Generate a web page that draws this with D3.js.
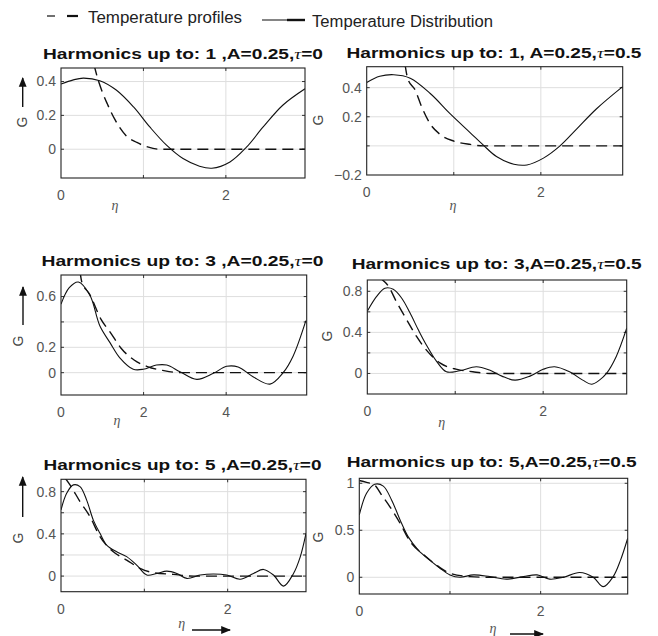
<!DOCTYPE html>
<html><head><meta charset="utf-8">
<script src="https://cdn.jsdelivr.net/npm/d3@7"></script>
<style>body{margin:0;background:#fff}svg{display:block}</style>
</head><body>
<svg id="c" width="658" height="636"></svg>
<script>
// ---------- data ----------
const legendLabels = ["Temperature profiles", "Temperature Distribution"];
const titleParts = [
  ["Harmonics up to: 1 ,A=0.25,", "=0"],
  ["Harmonics up to: 1, A=0.25,", "=0.5"],
  ["Harmonics up to: 3 ,A=0.25,", "=0"],
  ["Harmonics up to: 3,A=0.25,", "=0.5"],
  ["Harmonics up to: 5 ,A=0.25,", "=0"],
  ["Harmonics up to: 5,A=0.25,", "=0.5"]
];
const xTickLabels = [[0,2],[0,2],[0,2,4],[0,2],[0,2],[0,2]];
const xGridVals   = [[1,2],[1,2],[2,4],[1,2],[1,2],[1,2]];
const yTickLabels = [[0,0.2,0.4],[-0.2,0.2,0.4],[0,0.2,0.6],[0,0.4,0.8],[0,0.4,0.8],[0,0.5,1]];
const yGridVals   = [[0,0.2,0.4],[0,0.2,0.4],[0,0.2,0.4,0.6],[0,0.2,0.4,0.6,0.8],[0,0.2,0.4,0.6,0.8],[0,0.5,1]];
const xMax = [2.96, 2.94, 5.95, 2.95, 2.94, 2.96];
const yRange = [[-0.17,0.48],[-0.2,0.544],[-0.176,0.77],[-0.2,0.91],[-0.148,0.917],[-0.178,1.053]];

// Temperature distribution (solid) [eta, G]
const dist1 = [[0,0.385],[0.15,0.41],[0.27,0.42],[0.47,0.405],[0.67,0.35],[0.88,0.25],[1.08,0.13],[1.28,0.024],[1.48,-0.055],[1.68,-0.10],[1.83,-0.112],[2.05,-0.075],[2.25,0.012],[2.45,0.13],[2.69,0.26],[2.96,0.357]];
const dist2 = [[0,0.436],[0.15,0.478],[0.31,0.489],[0.5,0.465],[0.73,0.36],[0.96,0.22],[1.19,0.09],[1.34,0.005],[1.49,-0.073],[1.69,-0.126],[1.84,-0.131],[2.03,-0.084],[2.22,0],[2.41,0.115],[2.64,0.255],[2.94,0.407]];
const dist3 = [[0,0.54],[0.2,0.67],[0.42,0.715],[0.7,0.61],[0.94,0.37],[1.19,0.235],[1.43,0.115],[1.75,0.027],[1.99,0.027],[2.31,0.06],[2.56,0.06],[2.88,0.008],[3.29,-0.053],[3.69,-0.005],[4.01,0.05],[4.29,0.045],[4.65,-0.032],[5.06,-0.09],[5.38,0],[5.62,0.13],[5.93,0.41]];
const dist4 = [[0,0.605],[0.106,0.75],[0.2,0.83],[0.295,0.82],[0.39,0.735],[0.485,0.59],[0.58,0.425],[0.67,0.28],[0.79,0.115],[0.9,0.016],[1.05,0.026],[1.24,0.065],[1.39,0.033],[1.53,-0.026],[1.68,-0.065],[1.85,-0.026],[2.0,0.04],[2.13,0.065],[2.3,0.016],[2.45,-0.065],[2.55,-0.105],[2.64,-0.065],[2.72,0],[2.83,0.163],[2.95,0.44]];
const dist5 = [[0,0.627],[0.068,0.785],[0.148,0.864],[0.228,0.848],[0.308,0.72],[0.388,0.53],[0.468,0.405],[0.548,0.294],[0.668,0.23],[0.788,0.184],[0.908,0.104],[1.03,0.01],[1.15,0.025],[1.27,0.047],[1.39,0.025],[1.51,-0.022],[1.67,0.01],[1.83,0.02],[1.99,0.01],[2.15,-0.03],[2.31,0.025],[2.43,0.063],[2.55,0.01],[2.67,-0.095],[2.79,0.025],[2.87,0.18],[2.94,0.405]];
const dist6 = [[0,0.663],[0.08,0.894],[0.17,0.99],[0.265,0.97],[0.357,0.82],[0.45,0.61],[0.54,0.43],[0.65,0.29],[0.78,0.18],[0.89,0.096],[1.0,0.025],[1.11,0],[1.26,0.025],[1.44,0.007],[1.62,-0.02],[1.81,0.007],[1.96,0.025],[2.1,-0.02],[2.25,0],[2.43,0.05],[2.58,0],[2.69,-0.1],[2.8,0.007],[2.88,0.18],[2.96,0.415]];

// Temperature profiles (dashed) [eta, G]
const prof1 = [[0.40,0.5],[0.45,0.41],[0.5,0.34],[0.56,0.27],[0.66,0.17],[0.79,0.08],[0.92,0.04],[1.05,0.014],[1.2,0],[2.96,0]];
const prof2 = [[0.44,0.56],[0.47,0.465],[0.56,0.38],[0.63,0.27],[0.73,0.15],[0.84,0.08],[1.0,0.033],[1.19,0.01],[1.34,0],[2.94,0]];
const prof3 = [[0.46,0.8],[0.5,0.72],[0.69,0.62],[0.97,0.42],[1.21,0.31],[1.45,0.195],[1.77,0.10],[2.09,0.048],[2.49,0.016],[2.9,0],[5.95,0]];
const prof4 = [[0.144,0.93],[0.24,0.85],[0.33,0.70],[0.45,0.52],[0.56,0.36],[0.67,0.23],[0.83,0.10],[1.02,0.04],[1.2,0.016],[1.39,0],[2.95,0]];
const prof5 = [[0.048,0.93],[0.108,0.864],[0.228,0.706],[0.348,0.563],[0.468,0.373],[0.628,0.23],[0.788,0.152],[0.948,0.073],[1.11,0.032],[1.35,0.016],[1.59,0],[2.94,0]];
const prof6 = [[0,1.03],[0.08,1.01],[0.17,0.98],[0.246,0.876],[0.338,0.75],[0.45,0.574],[0.56,0.38],[0.71,0.24],[0.85,0.13],[1.0,0.043],[1.22,0.007],[1.4,0],[2.96,0]];

const distData = [dist1, dist2, dist3, dist4, dist5, dist6];
const profData = [prof1, prof2, prof3, prof4, prof5, prof6];

// ---------- layout ----------
const boxes = [[61,68,305,178],[366.7,66.7,622.7,175],[61,275,306.7,395],[367.3,280,626.7,394],[61,479.3,306,591.7],[359.3,478.3,627.7,594]];
const titlePos = [[183,59.3,280],[494,58.3,295],[182.5,265.7,282],[496.7,269.3,290],[182.5,470,278],[491.7,466.7,290]];
const gPos = [[22,122],[318,120],[18.5,341],[327,336],[18,538],[318,537]];
const upArrows = [[22.7,107,78],null,[23,325,287],null,[22.7,517,477],null];
const etaPos = [[115,205],[453,205],[117,420],[441.7,421.7],[181.7,623],[493,628]];
const rightArrows = [null,null,null,null,[192,230,630],[510,543,634]];

const svg = d3.select("#c");
const defs = svg.append("defs");
defs.append("marker").attr("id","ah").attr("viewBox","0 0 10 10").attr("refX",9).attr("refY",5)
  .attr("markerWidth",7).attr("markerHeight",7).attr("orient","auto-start-reverse")
  .append("path").attr("d","M0,1 L10,5 L0,9 Z").attr("fill","#111");

const sans = "'Liberation Sans', Arial, sans-serif";
const serif = "'Liberation Serif', 'DejaVu Serif', serif";

// legend
const lg = svg.append("g");
lg.append("line").attr("x1",47).attr("x2",55).attr("y1",16).attr("y2",16).attr("stroke","#222").attr("stroke-width",1.3);
lg.append("line").attr("x1",67).attr("x2",78).attr("y1",16).attr("y2",16).attr("stroke","#111").attr("stroke-width",2.2);
lg.append("text").attr("x",88).attr("y",22.5).attr("font-family",sans).attr("font-size",16).attr("fill","#222")
  .attr("textLength",154).attr("lengthAdjust","spacingAndGlyphs").text(legendLabels[0]);
lg.append("line").attr("x1",262).attr("x2",292).attr("y1",20).attr("y2",20).attr("stroke","#222").attr("stroke-width",1.1);
lg.append("line").attr("x1",287).attr("x2",305).attr("y1",20).attr("y2",20).attr("stroke","#111").attr("stroke-width",2.4);
lg.append("text").attr("x",312).attr("y",27).attr("font-family",sans).attr("font-size",16).attr("fill","#222")
  .attr("textLength",181).attr("lengthAdjust","spacingAndGlyphs").text(legendLabels[1]);

boxes.forEach((b, i) => {
  const [l,t,r,bt] = b;
  const x = d3.scaleLinear().domain([0, xMax[i]]).range([l, r]);
  const y = d3.scaleLinear().domain(yRange[i]).range([bt, t]);
  const g = svg.append("g");
  const cid = "clip" + i;
  defs.append("clipPath").attr("id", cid).append("rect").attr("x", l).attr("y", t).attr("width", r-l).attr("height", bt-t);

  // grid
  g.selectAll(".gx").data(xGridVals[i]).enter().append("line")
    .attr("x1", d=>x(d)).attr("x2", d=>x(d)).attr("y1", t).attr("y2", bt)
    .attr("stroke","#dedede").attr("stroke-width",1);
  g.selectAll(".gy").data(yGridVals[i]).enter().append("line")
    .attr("y1", d=>y(d)).attr("y2", d=>y(d)).attr("x1", l).attr("x2", r)
    .attr("stroke","#dedede").attr("stroke-width",1);

  // inner ticks
  const tk = 3;
  yGridVals[i].forEach(v => {
    g.append("line").attr("x1",l).attr("x2",l+tk).attr("y1",y(v)).attr("y2",y(v)).attr("stroke","#333");
    g.append("line").attr("x1",r).attr("x2",r-tk).attr("y1",y(v)).attr("y2",y(v)).attr("stroke","#333");
  });
  xGridVals[i].forEach(v => {
    g.append("line").attr("y1",bt).attr("y2",bt-tk).attr("x1",x(v)).attr("x2",x(v)).attr("stroke","#333");
    g.append("line").attr("y1",t).attr("y2",t+tk).attr("x1",x(v)).attr("x2",x(v)).attr("stroke","#333");
  });

  // lines
  const solidLine = d3.line().x(d=>x(d[0])).y(d=>y(d[1])).curve(d3.curveCatmullRom.alpha(0.5));
  const dashLine = d3.line().x(d=>x(d[0])).y(d=>y(d[1])).curve(d3.curveMonotoneX);
  const lines = g.append("g").attr("clip-path", `url(#${cid})`);
  lines.append("path").attr("d", solidLine(distData[i])).attr("fill","none").attr("stroke","#111").attr("stroke-width",1.1);
  lines.append("path").attr("d", dashLine(profData[i])).attr("fill","none").attr("stroke","#111").attr("stroke-width",1.4)
    .attr("stroke-dasharray","11,6");

  // box
  g.append("rect").attr("x",l).attr("y",t).attr("width",r-l).attr("height",bt-t)
    .attr("fill","none").attr("stroke","#222").attr("stroke-width",1.1);

  // tick labels
  g.selectAll(".xl").data(xTickLabels[i]).enter().append("text")
    .attr("x", d=>x(d)).attr("y", bt+17).attr("dy","0.35em").attr("text-anchor","middle")
    .attr("font-family",sans).attr("font-size",14).attr("fill","#555").text(d=>d3.format("~g")(d));
  g.selectAll(".yl").data(yTickLabels[i]).enter().append("text")
    .attr("x", l-5).attr("y", d=>y(d)).attr("dy","0.35em").attr("text-anchor","end")
    .attr("font-family",sans).attr("font-size",14).attr("fill","#555").text(d=>d3.format("~g")(d));

  // title
  const tp = titlePos[i];
  const tt = g.append("text").attr("x",tp[0]).attr("y",tp[1]).attr("text-anchor","middle")
    .attr("font-family",sans).attr("font-size",15.5).attr("font-weight","bold").attr("fill","#111")
    .attr("textLength",tp[2]).attr("lengthAdjust","spacingAndGlyphs");
  tt.append("tspan").text(titleParts[i][0]);
  tt.append("tspan").attr("font-family",serif).attr("font-style","italic").attr("font-weight","normal").text("τ");
  tt.append("tspan").text(titleParts[i][1]);

  // G label
  const gp = gPos[i];
  g.append("text").attr("transform",`translate(${gp[0]},${gp[1]}) rotate(-90)`).attr("text-anchor","middle")
    .attr("dy","0.35em").attr("font-family",sans).attr("font-size",14).attr("fill","#444").text("G");
  if (upArrows[i]) {
    const a = upArrows[i];
    g.append("line").attr("x1",a[0]).attr("x2",a[0]).attr("y1",a[1]).attr("y2",a[2])
      .attr("stroke","#111").attr("stroke-width",1.4).attr("marker-end","url(#ah)");
  }
  // eta label
  const ep = etaPos[i];
  g.append("text").attr("x",ep[0]).attr("y",ep[1]).attr("dy","0.35em").attr("text-anchor","middle")
    .attr("font-family",serif).attr("font-style","italic").attr("font-size",14).attr("fill","#555").text("η");
  if (rightArrows[i]) {
    const a = rightArrows[i];
    g.append("line").attr("x1",a[0]).attr("x2",a[1]).attr("y1",a[2]).attr("y2",a[2])
      .attr("stroke","#111").attr("stroke-width",1.4).attr("marker-end","url(#ah)");
  }
});
</script>
</body></html>
